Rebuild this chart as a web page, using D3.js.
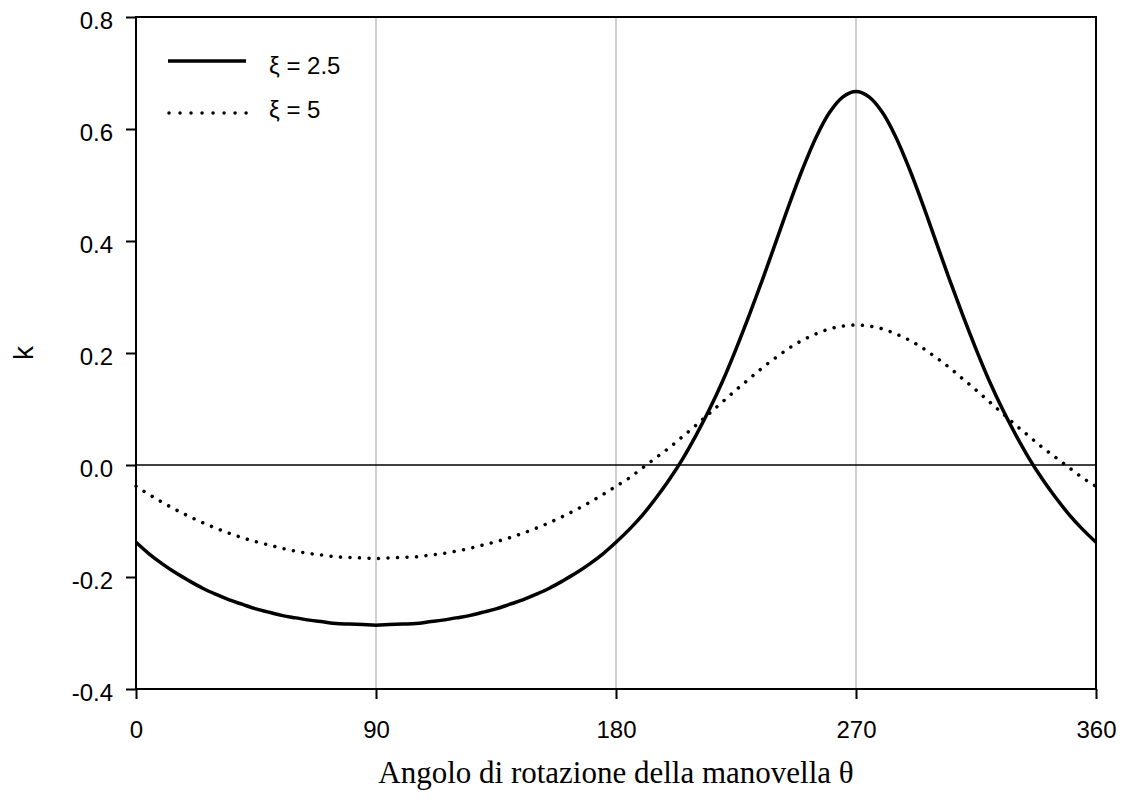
<!DOCTYPE html>
<html>
<head>
<meta charset="utf-8">
<script src="https://cdn.jsdelivr.net/npm/d3@7"></script>
<style>
  body { margin: 0; background: #fff; }
  svg { display: block; }
  .axis text { font-family: "Liberation Sans", Arial, sans-serif; font-size: 24px; fill: #000; }
  .axis line { stroke: #000; stroke-width: 2; }
</style>
</head>
<body>
<div id="chart"></div>
<script>
'use strict';

// Crank angle (degrees)
const angles = [0, 5, 10, 15, 20, 25, 30, 35, 40, 45, 50, 55, 60, 65, 70, 75, 80, 85, 90,
                95, 100, 105, 110, 115, 120, 125, 130, 135, 140, 145, 150, 155, 160, 165, 170, 175, 180,
                185, 190, 195, 200, 205, 210, 215, 220, 225, 230, 235, 240, 245, 250, 255, 260, 265, 270,
                275, 280, 285, 290, 295, 300, 305, 310, 315, 320, 325, 330, 335, 340, 345, 350, 355, 360];

// k for xi = 2.5 (solid)
const kXi25 = [-0.138, -0.159, -0.177, -0.193, -0.207, -0.220, -0.231, -0.241, -0.249, -0.257,
               -0.263, -0.269, -0.273, -0.277, -0.280, -0.283, -0.284, -0.285, -0.286,
               -0.285, -0.284, -0.283, -0.280, -0.277, -0.273, -0.269, -0.263, -0.257,
               -0.249, -0.241, -0.231, -0.220, -0.207, -0.193, -0.177, -0.159, -0.138,
               -0.115, -0.089, -0.059, -0.026, 0.011, 0.053, 0.099, 0.150, 0.207,
               0.268, 0.332, 0.399, 0.466, 0.529, 0.585, 0.629, 0.657, 0.667,
               0.657, 0.629, 0.585, 0.529, 0.466, 0.399, 0.332, 0.268, 0.207,
               0.150, 0.099, 0.053, 0.011, -0.026, -0.059, -0.089, -0.115, -0.138];

// k for xi = 5 (dotted)
const kXi5 = [-0.038, -0.053, -0.067, -0.080, -0.092, -0.103, -0.113, -0.122, -0.130, -0.137,
              -0.143, -0.149, -0.154, -0.158, -0.161, -0.164, -0.165, -0.166, -0.167,
              -0.166, -0.165, -0.164, -0.161, -0.158, -0.154, -0.149, -0.143, -0.137,
              -0.130, -0.122, -0.113, -0.103, -0.092, -0.080, -0.067, -0.053, -0.038,
              -0.023, -0.005, 0.013, 0.031, 0.051, 0.071, 0.092, 0.113, 0.134,
              0.154, 0.174, 0.192, 0.209, 0.223, 0.234, 0.243, 0.248, 0.250,
              0.248, 0.243, 0.234, 0.223, 0.209, 0.192, 0.174, 0.154, 0.134,
              0.113, 0.092, 0.071, 0.051, 0.031, 0.013, -0.005, -0.023, -0.038];

const xTickValues = [0, 90, 180, 270, 360];
const yTickValues = [-0.4, -0.2, 0, 0.2, 0.4, 0.6, 0.8];
const gridAngles = [90, 180, 270];
const seriesLabels = ['\u03BE = 2.5', '\u03BE = 5'];

const width = 1126;
const height = 804;
const margin = { top: 17, right: 30, bottom: 115, left: 136 };

const svg = d3.select('#chart')
  .append('svg')
    .attr('width', width)
    .attr('height', height);

// Scales
const x = d3.scaleLinear()
  .domain([0, 360])
  .range([margin.left, width - margin.right]);

const y = d3.scaleLinear()
  .domain([-0.4, 0.8])
  .range([height - margin.bottom, margin.top]);

// Vertical gridlines
svg.append('g')
  .selectAll('line')
  .data(gridAngles)
  .enter()
  .append('line')
    .attr('x1', d => x(d))
    .attr('x2', d => x(d))
    .attr('y1', y(0.8))
    .attr('y2', y(-0.4))
    .attr('stroke', '#c0c0c0')
    .attr('stroke-width', 1.5);

// Zero line
svg.append('line')
  .attr('x1', x(0))
  .attr('x2', x(360))
  .attr('y1', y(0))
  .attr('y2', y(0))
  .attr('stroke', '#000')
  .attr('stroke-width', 1.5);

// Axes
const xAxis = d3.axisBottom(x)
  .tickValues(xTickValues)
  .tickSize(10)
  .tickSizeOuter(0)
  .tickPadding(22)
  .tickFormat(d => d);

const yAxis = d3.axisLeft(y)
  .tickValues(yTickValues)
  .tickSize(10)
  .tickSizeOuter(0)
  .tickPadding(13)
  .tickFormat(d => d.toFixed(1));

svg.append('g')
  .attr('class', 'axis')
  .attr('transform', `translate(0, ${y(-0.4)})`)
  .call(xAxis)
  .call(g => g.select('.domain').remove());

svg.append('g')
  .attr('class', 'axis')
  .attr('transform', `translate(${x(0)}, 0)`)
  .call(yAxis)
  .call(g => g.select('.domain').remove())
  .call(g => g.selectAll('text').attr('dy', '0.47em'));

// Plot frame
svg.append('rect')
  .attr('x', x(0))
  .attr('y', y(0.8))
  .attr('width', x(360) - x(0))
  .attr('height', y(-0.4) - y(0.8))
  .attr('fill', 'none')
  .attr('stroke', '#000')
  .attr('stroke-width', 2);

// Curves
const line = d3.line()
  .x(d => x(d[0]))
  .y(d => y(d[1]))
  .curve(d3.curveCatmullRom);

svg.append('path')
  .datum(d3.zip(angles, kXi5))
  .attr('d', line)
  .attr('fill', 'none')
  .attr('stroke', '#000')
  .attr('stroke-width', 3.5)
  .attr('stroke-linecap', 'round')
  .attr('stroke-dasharray', '0.01 9.5');

svg.append('path')
  .datum(d3.zip(angles, kXi25))
  .attr('d', line)
  .attr('fill', 'none')
  .attr('stroke', '#000')
  .attr('stroke-width', 3.5)
  .attr('stroke-linejoin', 'round');

// Legend
const legend = svg.append('g')
  .attr('font-family', '"Liberation Sans", Arial, sans-serif')
  .attr('font-size', 24);

legend.append('line')
  .attr('x1', 168).attr('x2', 246)
  .attr('y1', 61).attr('y2', 61)
  .attr('stroke', '#000')
  .attr('stroke-width', 3.5);

legend.append('line')
  .attr('x1', 169).attr('x2', 247)
  .attr('y1', 113).attr('y2', 113)
  .attr('stroke', '#000')
  .attr('stroke-width', 3.5)
  .attr('stroke-linecap', 'round')
  .attr('stroke-dasharray', '0.01 11');

legend.append('text')
  .attr('x', 269)
  .attr('y', 74)
  .text(seriesLabels[0]);

legend.append('text')
  .attr('x', 269)
  .attr('y', 118)
  .text(seriesLabels[1]);

// Axis titles
svg.append('text')
  .attr('transform', `translate(33, ${(y(0.8) + y(-0.4)) / 2}) rotate(-90)`)
  .attr('text-anchor', 'middle')
  .attr('font-family', '"Liberation Sans", Arial, sans-serif')
  .attr('font-size', 28)
  .text('k');

svg.append('text')
  .attr('x', (x(0) + x(360)) / 2)
  .attr('y', 783)
  .attr('text-anchor', 'middle')
  .attr('font-family', '"Liberation Serif", "Times New Roman", serif')
  .attr('font-size', 31)
  .text('Angolo di rotazione della manovella \u03B8');
</script>
</body>
</html>
